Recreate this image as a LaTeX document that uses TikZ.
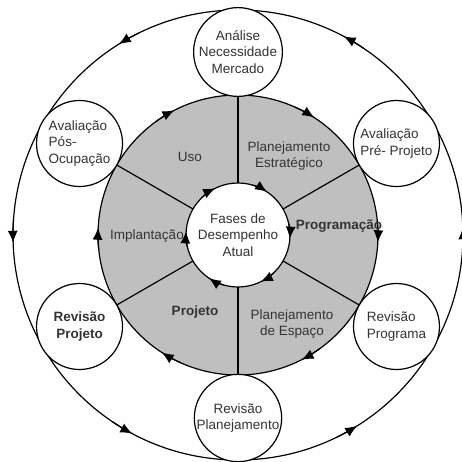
\documentclass[tikz,border=0pt]{standalone}
\usepackage{fontspec}
\setmainfont{Liberation Sans}
\usetikzlibrary{arrows.meta}
\begin{document}
\begin{tikzpicture}[x=1pt,y=1pt,line width=1.2pt,
  every node/.style={font=\fontsize{13.5}{16.5}\selectfont,text=black!80,align=center},
  roda/.style={draw,shape=circle,fill=white,minimum size=86pt,inner sep=0pt,outer sep=0pt},
  ponta/.style={-{Latex[length=12pt,width=10pt]}}]
\useasboundingbox (-238,-226) rectangle (224,235);

% outer cycle
\draw (0,0) circle (225);
\foreach \a in {0,60,...,300}
  \draw[ponta] (\a-4:225) arc (\a-4:\a+2:225);

% gray ring
\fill[black!25] (0,0) circle (140);
\draw (0,0) circle (140);

\node (mercado) [roda] at (90:183) {Análise\\Necessidade\\Mercado};
\node (prepro) [roda,align=left] at (30:183) {Avaliação\\Pré- Projeto};
\node (revprog) [roda,align=left] at (-30:183) {Revisão\\Programa};
\node (revplan) [roda] at (-90:183) {Revisão\\Planejamento};
\node (revproj) [roda] at (210:183) {\textbf{Revisão}\\\textbf{Projeto}};
\node (posocup) [roda,align=left] at (150:183) {Avaliação\\Pós-\\Ocupação};

\node (fases) [draw,shape=circle,fill=white,minimum size=104pt,outer sep=0pt] at (0,0) {Fases de\\Desempenho\\Atual};

\foreach \a/\b/\n in {30/210/prepro,90/270/mercado,150/330/posocup,210/30/revproj,270/90/revplan,330/150/revprog}
  \draw (fases.\a) -- (\n.\b);

\foreach \a in {0,60,...,300} {
  \draw[ponta] (\a+6:140) arc (\a+6:\a-3:140);
  \draw[ponta] (\a+14:52) arc (\a+14:\a-4:52);
}

\node (uso) at (-48,78) {Uso};
\node (estrat) at (51,79) {Planejamento\\Estratégico};
\node (program) at (101,9) {\textbf{Programação}};
\node (espaco) at (54,-89) {Planejamento\\de Espaço};
\node (projeto) at (-43,-77) {\textbf{Projeto}};
\node (implant) at (-91,-1) {Implantação};

\end{tikzpicture}
\end{document}
